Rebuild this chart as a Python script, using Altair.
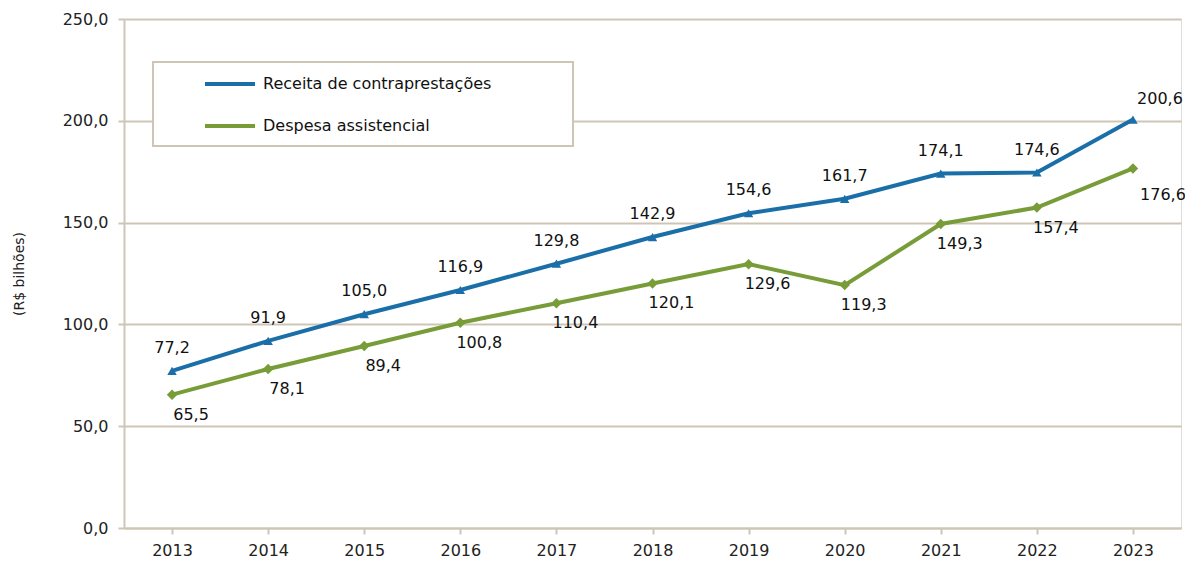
import altair as alt
import pandas as pd

anos = ["2013", "2014", "2015", "2016", "2017", "2018", "2019", "2020", "2021", "2022", "2023"]
receita = [77.2, 91.9, 105.0, 116.9, 129.8, 142.9, 154.6, 161.7, 174.1, 174.6, 200.6]
despesa = [65.5, 78.1, 89.4, 100.8, 110.4, 120.1, 129.6, 119.3, 149.3, 157.4, 176.6]
series = ["Receita de contraprestações", "Despesa assistencial"]
y_ticks = [0, 50, 100, 150, 200, 250]

BLUE = "#1B6FA8"
GREEN = "#779C38"
GRID = "#CFC5B6"
FONT = "DejaVu Sans"

rows = []
for a, r, d in zip(anos, receita, despesa):
    rows.append({"ano": a, "serie": series[0], "valor": r})
    rows.append({"ano": a, "serie": series[1], "valor": d})
df = pd.DataFrame(rows)

x = alt.X("ano:N", title=None, sort=anos,
          scale=alt.Scale(paddingInner=0, paddingOuter=0, align=0.5),
          axis=alt.Axis(labelAngle=0, domainColor=GRID, domainWidth=2, tickColor=GRID,
                        tickWidth=2, tickSize=6, labelPadding=8, labelFont=FONT,
                        labelFontSize=16, labelColor="#222", grid=False))
y = alt.Y("valor:Q", title="(R$ bilhões)",
          scale=alt.Scale(domain=[0, 250], nice=False),
          axis=alt.Axis(values=y_ticks, labelExpr="replace(format(datum.value, '.1f'), '.', ',')",
                        domainColor=GRID, domainWidth=2, tickColor=GRID, tickWidth=2, tickSize=6,
                        gridColor=GRID, gridWidth=2, labelPadding=10, labelFont=FONT,
                        labelFontSize=16, labelColor="#222", titleFont=FONT, titleFontSize=14,
                        titleFontWeight="normal", titleColor="#222", titlePadding=36))
color = alt.Color("serie:N", scale=alt.Scale(domain=series, range=[BLUE, GREEN]),
                  legend=alt.Legend(title=None, orient="none", legendX=79, legendY=38,
                                    padding=0, symbolType="stroke", symbolSize=2500,
                                    symbolStrokeWidth=4, labelLimit=400,
                                    labelFont=FONT, labelFontSize=16, labelColor="#111",
                                    rowPadding=7, labelOffset=6, symbolOffset=0))

base = alt.Chart(df)

legend_box = alt.Chart(pd.DataFrame({"k": [0]})).mark_rect(
    fill="white", stroke=GRID, strokeWidth=2
).encode(x=alt.value(29), x2=alt.value(449), y=alt.value(43), y2=alt.value(127))

lines = base.mark_line(strokeWidth=4).encode(x=x, y=y, color=color)

pts_r = base.transform_filter(alt.datum.serie == series[0]).mark_point(
    shape="triangle-up", filled=True, size=90, opacity=1, color=BLUE
).encode(x=x, y=y)
pts_d = base.transform_filter(alt.datum.serie == series[1]).mark_point(
    shape="diamond", filled=True, size=110, opacity=1, color=GREEN
).encode(x=x, y=y)

lab = base.transform_calculate(txt="replace(format(datum.valor, '.1f'), '.', ',')")
txt_kw = dict(font=FONT, fontSize=16, color="#111", baseline="middle")
lab_r = lab.transform_filter((alt.datum.serie == series[0]) & (alt.datum.ano != "2023")).mark_text(
    dy=-23, **txt_kw).encode(x=x, y=y, text="txt:N")
lab_r2 = lab.transform_filter((alt.datum.serie == series[0]) & (alt.datum.ano == "2023")).mark_text(
    dy=-21, dx=27, **txt_kw).encode(x=x, y=y, text="txt:N")
lab_d = lab.transform_filter((alt.datum.serie == series[1]) & (alt.datum.ano != "2023")).mark_text(
    dy=20, dx=19, **txt_kw).encode(x=x, y=y, text="txt:N")
lab_d2 = lab.transform_filter((alt.datum.serie == series[1]) & (alt.datum.ano == "2023")).mark_text(
    dy=27, dx=30, **txt_kw).encode(x=x, y=y, text="txt:N")

chart = alt.layer(legend_box, lines, pts_r, pts_d, lab_r, lab_r2, lab_d, lab_d2).properties(
    width=1057, height=509,
    autosize=alt.AutoSizeParams(type="none"),
    padding={"left": 116, "top": 11, "right": 4, "bottom": 36},
).configure_view(stroke=None).configure(background="white")

chart.save("out.html", embed_options={"renderer": "svg", "actions": False})
